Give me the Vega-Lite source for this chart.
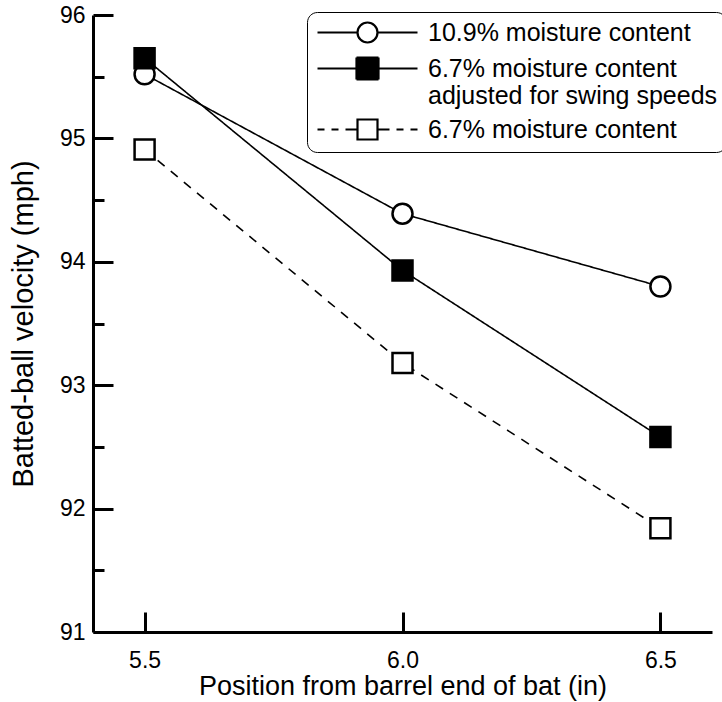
{
  "$schema": "https://vega.github.io/schema/vega-lite/v6.json",
  "autosize": {"type": "none"},
  "width": 619,
  "height": 617,
  "padding": {"left": 93, "top": 15, "right": 10, "bottom": 70},
  "background": "white",
  "config": {
    "view": {"stroke": null},
    "font": "Liberation Sans",
    "axis": {
      "domainColor": "black", "domainWidth": 3, "tickColor": "black", "tickWidth": 3,
      "labelFont": "Liberation Sans", "labelFontSize": 23, "labelColor": "black",
      "titleFont": "Liberation Sans", "titleFontSize": 27, "titleFontWeight": "normal", "titleColor": "black",
      "grid": false
    }
  },
  "data": {"values": [
    {"x": 5.5, "v": 95.52, "s": "10.9% moisture content"},
    {"x": 6.0, "v": 94.39, "s": "10.9% moisture content"},
    {"x": 6.5, "v": 93.80, "s": "10.9% moisture content"},
    {"x": 5.5, "v": 95.65, "s": "6.7% moisture content adjusted for swing speeds"},
    {"x": 6.0, "v": 93.93, "s": "6.7% moisture content adjusted for swing speeds"},
    {"x": 6.5, "v": 92.58, "s": "6.7% moisture content adjusted for swing speeds"},
    {"x": 5.5, "v": 94.91, "s": "6.7% moisture content"},
    {"x": 6.0, "v": 93.18, "s": "6.7% moisture content"},
    {"x": 6.5, "v": 91.84, "s": "6.7% moisture content"}
  ]},
  "resolve": {
    "axis": {"x": "independent", "y": "independent"},
    "scale": {"shape": "independent", "fill": "independent"}
  },
  "layer": [
    {
      "mark": {"type": "line", "color": "black", "strokeWidth": 1.6},
      "encoding": {
        "x": {"field": "x", "type": "quantitative", "scale": {"domain": [5.4, 6.6], "nice": false, "zero": false},
          "axis": {"values": [5.5, 6.0, 6.5], "format": ".1f", "tickSize": -20, "labelPadding": 37, "title": "Position from barrel end of bat (in)", "titlePadding": 1}},
        "y": {"field": "v", "type": "quantitative", "scale": {"domain": [91, 96], "nice": false, "zero": false},
          "axis": {"values": [91, 92, 93, 94, 95, 96], "format": "d", "tickSize": -20, "labelPadding": 28, "title": "Batted-ball velocity (mph)", "titleFontSize": 29, "titlePadding": 21}},
        "detail": {"field": "s"},
        "strokeDash": {"field": "s", "type": "nominal", "legend": null,
          "scale": {"domain": ["6.7% moisture content", "10.9% moisture content", "6.7% moisture content adjusted for swing speeds"], "range": [[9, 8], [1, 0], [1, 0]]}}
      }
    },
    {
      "mark": {"type": "point", "filled": true, "stroke": "black", "strokeWidth": 2.5, "size": 400, "opacity": 1},
      "encoding": {
        "x": {"field": "x", "type": "quantitative", "axis": null},
        "y": {"field": "v", "type": "quantitative",
          "axis": {"orient": "left", "values": [91.5, 92.5, 93.5, 94.5, 95.5], "tickSize": -11, "labels": false, "domain": false, "title": null}},
        "shape": {"field": "s", "type": "nominal", "legend": null,
          "scale": {"domain": ["6.7% moisture content adjusted for swing speeds", "6.7% moisture content", "10.9% moisture content"], "range": ["square", "square", "circle"]}},
        "fill": {"field": "s", "type": "nominal", "legend": null,
          "scale": {"domain": ["6.7% moisture content adjusted for swing speeds", "10.9% moisture content", "6.7% moisture content"], "range": ["black", "white", "white"]}}
      }
    },
    {
      "transform": [{"filter": "false"}],
      "mark": {"type": "point", "filled": false, "color": "black", "stroke": "black", "strokeWidth": 2.2, "size": 400, "opacity": 1},
      "encoding": {
        "x": {"field": "x", "type": "quantitative", "axis": null},
        "y": {"field": "v", "type": "quantitative", "axis": null},
        "shape": {"field": "s", "type": "nominal",
          "scale": {"domain": ["10.9% moisture content", "6.7% moisture content adjusted for swing speeds", "6.7% moisture content"],
            "range": [
              "M-5,0H-1 M1,0H5 M-1,0A1,1 0 1,0 1,0A1,1 0 1,0 -1,0",
              "M-5,0H5 M-1.1,-1.1H1.1 M-1.1,-0.9H1.1 M-1.1,-0.7H1.1 M-1.1,-0.5H1.1 M-1.1,-0.3H1.1 M-1.1,-0.1H1.1 M-1.1,0.1H1.1 M-1.1,0.3H1.1 M-1.1,0.5H1.1 M-1.1,0.7H1.1 M-1.1,0.9H1.1 M-1.1,1.1H1.1 M-1.1,-1.1V1.1 M1.1,-1.1V1.1",
              "M-5,0H-4.3 M-3.6,0H-2.9 M-2.2,0H-1 M1,0H2.2 M2.9,0H3.6 M4.3,0H5 M-1,-1H1V1H-1Z"
            ]},
          "legend": {
            "orient": "none", "legendX": 214, "legendY": -3, "title": null,
            "strokeColor": "black", "cornerRadius": 10, "padding": 8,
            "symbolSize": 400, "symbolOffset": 40, "symbolOpacity": 1, "symbolStrokeColor": "black", "symbolStrokeWidth": 2.2,
            "labelFontSize": 25, "labelFont": "Liberation Sans", "labelColor": "black",
            "labelOffset": 48, "rowPadding": 6, "labelLimit": 400,
            "labelExpr": "datum.label == '6.7% moisture content adjusted for swing speeds' ? ['6.7% moisture content', 'adjusted for swing speeds'] : datum.label"
          }}
      }
    }
  ]
}
